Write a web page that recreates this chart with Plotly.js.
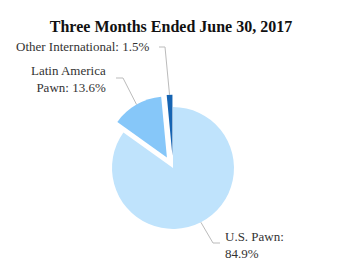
<!DOCTYPE html>
<html>
<head>
<meta charset="utf-8">
<script src="https://cdn.plot.ly/plotly-3.0.1.min.js"></script>
<style>html,body{margin:0;padding:0;background:#fff;}#chart{width:341px;height:277px;}</style>
</head>
<body>
<div id="chart"></div>
<script>
// Data (clockwise from 12 o'clock)
var categories = ["U.S. Pawn", "Latin America Pawn", "Other International"];
var values = [84.9, 13.6, 1.5];
var labelTexts = ["U.S. Pawn:<br>84.9%", "Latin America<br>Pawn: 13.6%", "Other International: 1.5%"];
var colors = ["#BFE3FC", "#86C7F9", "#1664B2"];
var pulls = [0, 0.2, 0.2];

// Layout geometry (pixels)
var W = 341, H = 277;
var cx = 173, cy = 168, r = 61;
var maxPull = Math.max.apply(null, pulls);
var half = r * (1 + maxPull);
function px(x) { return x / W; }
function py(y) { return 1 - y / H; }
var serif = "Liberation Serif";

// Label elbows / anchors (pixels)
var elbows = [[213, 243], [123, 78], [165, 47]];
var ends = [[220, 243], [116, 78], [159, 47]];
var labelPos = [[223, 245, "left"], [108, 79, "right"], [151, 47, "right"]];

var total = values.reduce(function (a, b) { return a + b; }, 0);
var shapes = [], annotations = [];
var cum = 0;
for (var i = 0; i < values.length; i++) {
  var start = cum / total * 360;
  cum += values[i];
  var end = cum / total * 360;
  var mid = (start + end) / 2 * Math.PI / 180;
  var dx = Math.sin(mid), dy = -Math.cos(mid);
  var rr = r * (1 + pulls[i]);
  var sx = cx + dx * rr, sy = cy + dy * rr;
  var path = "M" + px(sx) + "," + py(sy) + " L" + px(elbows[i][0]) + "," + py(elbows[i][1]) +
    " L" + px(ends[i][0]) + "," + py(ends[i][1]);
  shapes.push({type: "path", xref: "paper", yref: "paper", path: path,
    line: {color: "#BBBBBB", width: 1}});
  annotations.push({xref: "paper", yref: "paper", x: px(labelPos[i][0]), y: py(labelPos[i][1]),
    xanchor: labelPos[i][2], yanchor: "middle", align: labelPos[i][2], showarrow: false,
    text: labelTexts[i], font: {family: serif, size: 13, color: "#333333"}});
}

var trace = {
  type: "pie",
  labels: categories,
  values: values,
  sort: false,
  direction: "clockwise",
  rotation: 0,
  pull: pulls,
  textinfo: "none",
  hoverinfo: "label+percent",
  marker: {colors: colors, line: {width: 0}},
  domain: {x: [px(cx - half), px(cx + half)], y: [py(cy + half), py(cy - half)]}
};

var layout = {
  width: W, height: H,
  margin: {l: 0, r: 0, t: 0, b: 0},
  paper_bgcolor: "#ffffff",
  showlegend: false,
  font: {family: serif},
  title: {
    text: "<b>Three Months Ended June 30, 2017</b>",
    font: {family: serif, size: 16, color: "#111111"},
    x: 171 / W, xanchor: "center", xref: "paper",
    y: 1 - 26 / H, yanchor: "middle", yref: "container"
  },
  shapes: shapes,
  annotations: annotations
};

Plotly.newPlot("chart", [trace], layout, {displayModeBar: false, staticPlot: true});
</script>
</body>
</html>
